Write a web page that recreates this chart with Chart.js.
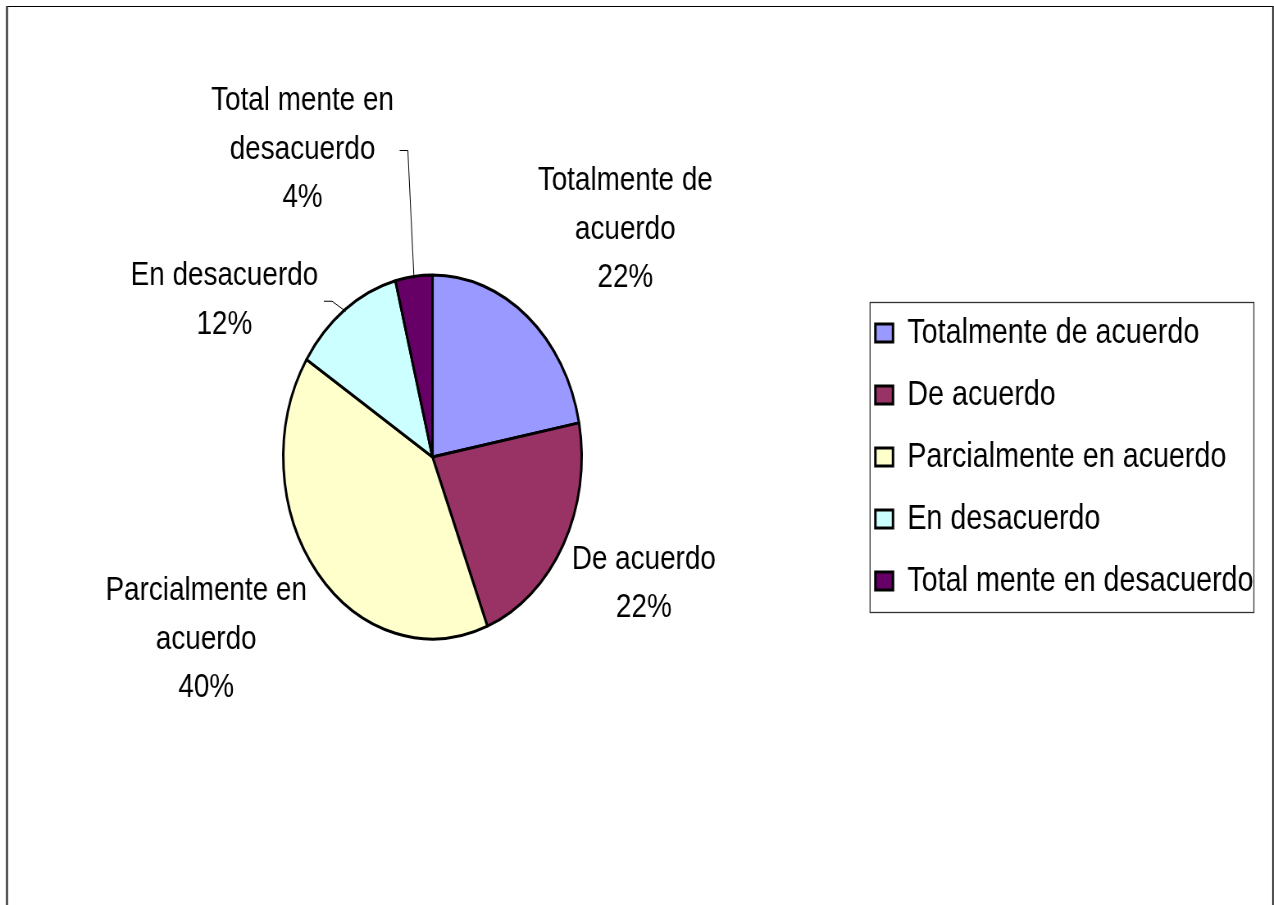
<!DOCTYPE html>
<html>
<head>
<meta charset="utf-8">
<style>
html,body{margin:0;padding:0;background:#fff;overflow:hidden;}
#wrap{position:absolute;left:0;top:0;width:1554px;height:905px;transform:scaleX(0.8198);transform-origin:0 0;}
canvas{display:block;}
</style>
<script src="https://cdn.jsdelivr.net/npm/chart.js@4/dist/chart.umd.min.js"></script>
</head>
<body>
<div id="wrap"><canvas id="c" width="1554" height="905"></canvas></div>
<script>
// ---- data ----
const categories = ['Totalmente de acuerdo', 'De acuerdo', 'Parcialmente en acuerdo', 'En desacuerdo', 'Total mente en desacuerdo'];
const percentages = [22, 22, 40, 12, 4];
const sliceColors = ['#9999FF', '#993366', '#FFFFCC', '#CCFFFF', '#660066'];

// ---- layout helpers (label placement, not data) ----
const labelNudges = [[32, -8], [-5, 1], [-18, 1], [-62, 54], [-118, -25]];
const FONT_FAMILY = '"Liberation Sans", Arial, Helvetica, sans-serif';

function wrapText(ctx, text, maxW) {
  const words = text.split(' ');
  const lines = [];
  let cur = '';
  words.forEach(w => {
    const t = cur ? cur + ' ' + w : w;
    if (ctx.measureText(t).width > maxW && cur) { lines.push(cur); cur = w; }
    else cur = t;
  });
  if (cur) lines.push(cur);
  return lines;
}

const frame = {
  id: 'frame',
  beforeDraw(chart) {
    const ctx = chart.ctx;
    ctx.save();
    ctx.fillStyle = '#fff';
    ctx.fillRect(0, 0, chart.width, chart.height);
    ctx.strokeStyle = '#000';
    ctx.lineWidth = 1.2;
    ctx.beginPath(); ctx.moveTo(8, 6.5); ctx.lineTo(1553, 6.5); ctx.stroke();
    ctx.strokeStyle = '#404040';
    ctx.lineWidth = 2.6;
    ctx.beginPath(); ctx.moveTo(8.5, 6); ctx.lineTo(8.5, 920); ctx.stroke();
    ctx.strokeStyle = '#111';
    ctx.lineWidth = 1.8;
    ctx.beginPath(); ctx.moveTo(1552.8, 6); ctx.lineTo(1552.8, 920); ctx.stroke();
    ctx.restore();
  },
  afterDraw(chart) {
    const lg = chart.legend;
    if (!lg || !lg.legendHitBoxes || !lg.legendHitBoxes.length) return;
    const hb = lg.legendHitBoxes;
    const left = Math.min(...hb.map(h => h.left)) - 6.5;
    const right = Math.max(...hb.map(h => h.left + h.width)) + 0.5;
    const top = hb[0].top - 13;
    const bottom = hb[hb.length - 1].top + hb[hb.length - 1].height + 14;
    const ctx = chart.ctx;
    ctx.save();
    ctx.strokeStyle = '#333';
    ctx.lineWidth = 1.3;
    ctx.strokeRect(left, top, right - left, bottom - top);
    ctx.restore();
  }
};

const pieLabels = {
  id: 'pieLabels',
  afterDatasetsDraw(chart) {
    const ctx = chart.ctx;
    const meta = chart.getDatasetMeta(0);
    const total = percentages.reduce((a, b) => a + b, 0);
    ctx.save();
    ctx.font = '34px ' + FONT_FAMILY;
    ctx.fillStyle = '#000';
    ctx.textAlign = 'center';
    ctx.textBaseline = 'middle';
    const lh = 48.5;
    meta.data.forEach((arc, i) => {
      const p = arc.getProps(['x', 'y', 'startAngle', 'endAngle', 'outerRadius'], true);
      const mid = (p.startAngle + p.endAngle) / 2;
      const dx = Math.cos(mid), dy = Math.sin(mid);
      const pct = Math.round(percentages[i] / total * 100) + '%';
      const lines = wrapText(ctx, categories[i], 260).concat([pct]);
      const w = Math.max(...lines.map(l => ctx.measureText(l).width));
      const hw = w / 2, hh = lines.length * lh / 2;
      const R = p.outerRadius + 30;
      const nx = labelNudges[i][0], ny = labelNudges[i][1];
      const cx = p.x + dx * R + dx * hw + nx;
      const cy = p.y + dy * R + dy * hh + ny;
      lines.forEach((l, k) => ctx.fillText(l, cx, cy + (k - (lines.length - 1) / 2) * lh));
      if (Math.hypot(nx, ny) > 50) {
        const sx = cx + hw + 7;
        const ex = p.x + dx * (p.outerRadius - 2);
        const ey = p.y + dy * (p.outerRadius - 2);
        ctx.save();
        ctx.strokeStyle = '#000';
        ctx.lineWidth = 1;
        ctx.beginPath();
        ctx.moveTo(sx, cy + 1);
        ctx.lineTo(sx + 10, cy + 1);
        ctx.lineTo(ex, ey);
        ctx.stroke();
        ctx.restore();
      }
    });
    ctx.restore();
  }
};

new Chart(document.getElementById('c'), {
  type: 'pie',
  data: {
    labels: categories,
    datasets: [{
      data: percentages,
      backgroundColor: sliceColors,
      borderColor: '#000',
      borderWidth: 3,
      radius: 182
    }]
  },
  options: {
    responsive: false,
    animation: false,
    devicePixelRatio: 1,
    radius: 182,
    layout: { padding: { left: 14.3, right: 15, top: 9, bottom: 0 } },
    plugins: {
      tooltip: { enabled: false },
      legend: {
        position: 'right',
        labels: {
          font: { size: 35, family: FONT_FAMILY },
          color: '#000',
          boxWidth: 21.5,
          boxHeight: 18,
          padding: 27
        }
      }
    }
  },
  plugins: [frame, pieLabels]
});
</script>
</body>
</html>
